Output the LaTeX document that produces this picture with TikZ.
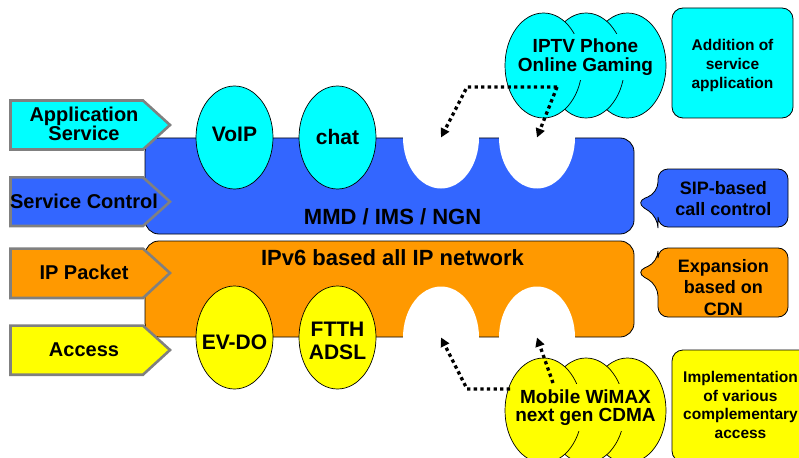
\documentclass[tikz,border=0pt]{standalone}
\usepackage{fontspec}
\setmainfont{Liberation Sans}
\usetikzlibrary{shapes.geometric,arrows.meta}

\definecolor{appcyan}{HTML}{00FFFF}
\definecolor{ctrlblue}{HTML}{3366FF}
\definecolor{pktorange}{HTML}{FF9900}
\definecolor{accyellow}{HTML}{FFFF00}
\definecolor{tabgray}{HTML}{808080}

\begin{document}
\begin{tikzpicture}[x=1pt,y=-1pt,
  layer/.style={draw=black, line width=0.8pt, rounded corners=14pt},
  tab/.style={draw=tabgray, line width=2.6pt, line join=miter},
  svc/.style={ellipse, draw=black, line width=0.7pt, minimum width=77pt,
              minimum height=103pt, inner sep=0pt},
  bigsvc/.style={svc, minimum height=105pt},
  note/.style={draw=black, line width=0.8pt, rounded corners=11pt},
  tabtext/.style={font=\fontsize{20}{17.7}\selectfont\bfseries, align=center, inner sep=0pt},
  svctext/.style={font=\fontsize{21}{23}\selectfont\bfseries, align=center, inner sep=0pt},
  layertext/.style={font=\fontsize{22}{24}\selectfont\bfseries, inner sep=0pt},
  trioText/.style={font=\fontsize{19}{18.5}\selectfont\bfseries, align=center,
                   inner xsep=1pt, inner ysep=5pt},
  noteText/.style={font=\fontsize{15.5}{18.7}\selectfont\bfseries, align=center, inner sep=0pt},
  calloutText/.style={font=\fontsize{18}{21.5}\selectfont\bfseries, align=center, inner sep=0pt},
  flow/.style={line width=3.3pt, dash pattern=on 3.3pt off 3.3pt,
               -{Triangle[length=9pt,width=9pt]}}
]
\useasboundingbox (0,0) rectangle (799,457);
\clip (0,0) rectangle (799,457);

% ---- layer bands ----
\draw[layer, fill=ctrlblue] (145,138) rectangle (634,234);
\draw[layer, fill=pktorange] (145,241) rectangle (634,337);

% empty slots cut into the bands
\coordinate (slotA) at (441,137.5);
\coordinate (slotB) at (537,137.5);
\coordinate (slotC) at (441,337.5);
\coordinate (slotD) at (537,337.5);
\begin{scope}
  \clip (140,130) rectangle (640,234);
  \fill[white] (slotA) ellipse [x radius=38, y radius=51];
  \fill[white] (slotB) ellipse [x radius=38, y radius=51];
\end{scope}
\begin{scope}
  \clip (140,241) rectangle (640,345);
  \fill[white] (slotC) ellipse [x radius=38, y radius=51];
  \fill[white] (slotD) ellipse [x radius=38, y radius=51];
\end{scope}

% ---- services sitting in the bands ----
\node[svc, fill=appcyan] (voipE) at (234.5,137.5) {};
\node[svc, fill=appcyan] (chatE) at (337.5,137.5) {};
\node[svc, fill=accyellow] (evdoE) at (234.5,337.5) {};
\node[svc, fill=accyellow] (ftthE) at (337.5,337.5) {};
\node[svctext] (voip) at (234.5,134.5) {VoIP};
\node[svctext] (chat) at (337.5,136.7) {chat};
\node[svctext] (evdo) at (234.5,342) {EV-DO};
\node[svctext] (ftth) at (337.5,340.8) {FTTH\\ADSL};

% ---- layer tabs ----
\draw[tab, fill=appcyan]    (10.5,100.5) -- (143,100.5) -- (170,125) -- (143,149.5) -- (10.5,149.5) -- cycle;
\draw[tab, fill=ctrlblue]   (10.5,177.3) -- (143,177.3) -- (170,201.7) -- (143,226) -- (10.5,226) -- cycle;
\draw[tab, fill=pktorange]  (10.5,248.6) -- (143,248.6) -- (170,273) -- (143,298) -- (10.5,298) -- cycle;
\draw[tab, fill=accyellow]  (10.5,325.6) -- (143,325.6) -- (170,350) -- (143,374.7) -- (10.5,374.7) -- cycle;
\node[tabtext] (appsvc) at (84,124) {Application\\Service};
\node[tabtext] (svcctl) at (84,201) {Service Control};
\node[tabtext] (ippkt)  at (84,272.5) {IP Packet};
\node[tabtext] (access) at (84,349.7) {Access};

% ---- band titles ----
\node[layertext] (mmd)  at (392.6,216.7) {MMD / IMS / NGN};
\node[layertext] (ipv6) at (392.5,257.7) {IPv6 based all IP network};

% ---- new application services ----
\node[bigsvc, fill=appcyan] (appC) at (627.5,65.5) {};
\node[bigsvc, fill=appcyan] (appB) at (586,65.5) {};
\node[bigsvc, fill=appcyan] (appA) at (543.5,65.5) {};
\node[trioText, fill=appcyan] (iptv) at (585.5,57.2) {IPTV Phone\\Online Gaming};

% ---- new access technologies ----
\node[bigsvc, fill=accyellow] (accC) at (627.5,410.5) {};
\node[bigsvc, fill=accyellow] (accB) at (586,410.5) {};
\node[bigsvc, fill=accyellow] (accA) at (543.5,410.5) {};
\node[trioText, fill=accyellow] (wimax) at (585.5,407.5) {Mobile WiMAX\\next gen CDMA};

% ---- plug-in arrows ----
\coordinate (topFork) at (557,87);
\coordinate (topBend) at (467,87);
\coordinate (lowStart) at (510,389);
\coordinate (lowBend) at (467,389);
\coordinate (lowStart2) at (553,383);
\draw[flow] (topFork) -- (topBend) -- (slotA);
\draw[flow] (topFork) -- (slotB);
\draw[flow] (lowStart) -- (lowBend) -- (slotC);
\draw[flow] (lowStart2) -- (slotD);

% ---- side notes ----
\node[note, fill=appcyan, minimum width=121pt, minimum height=110pt, inner sep=0pt]
  (addbox) at (732.5,63) {};
\node[noteText] (addition) at (732.5,65.5) {Addition of\\service\\application};

\draw[note, fill=ctrlblue] (658,193) -- (635,202) -- (658,217)
  {[rounded corners=10pt] -- (658,227) -- (788,227) -- (788,169) -- (658,169)} -- cycle;
\node[calloutText] (sip) at (723.3,198.8) {SIP-based\\call control};

\draw[note, fill=pktorange] (658,262) -- (635,272) -- (658,285)
  {[rounded corners=10pt] -- (658,317) -- (788,317) -- (788,248) -- (658,248)} -- cycle;
\node[calloutText] (cdn) at (723.3,287.5) {Expansion\\based on\\CDN};

\node[note, fill=accyellow, minimum width=140pt, minimum height=112pt, inner sep=0pt]
  (implbox) at (742,406) {};
\node[noteText] (impl) at (740.5,405) {Implementation\\of various\\complementary\\access};
\end{tikzpicture}
\end{document}
